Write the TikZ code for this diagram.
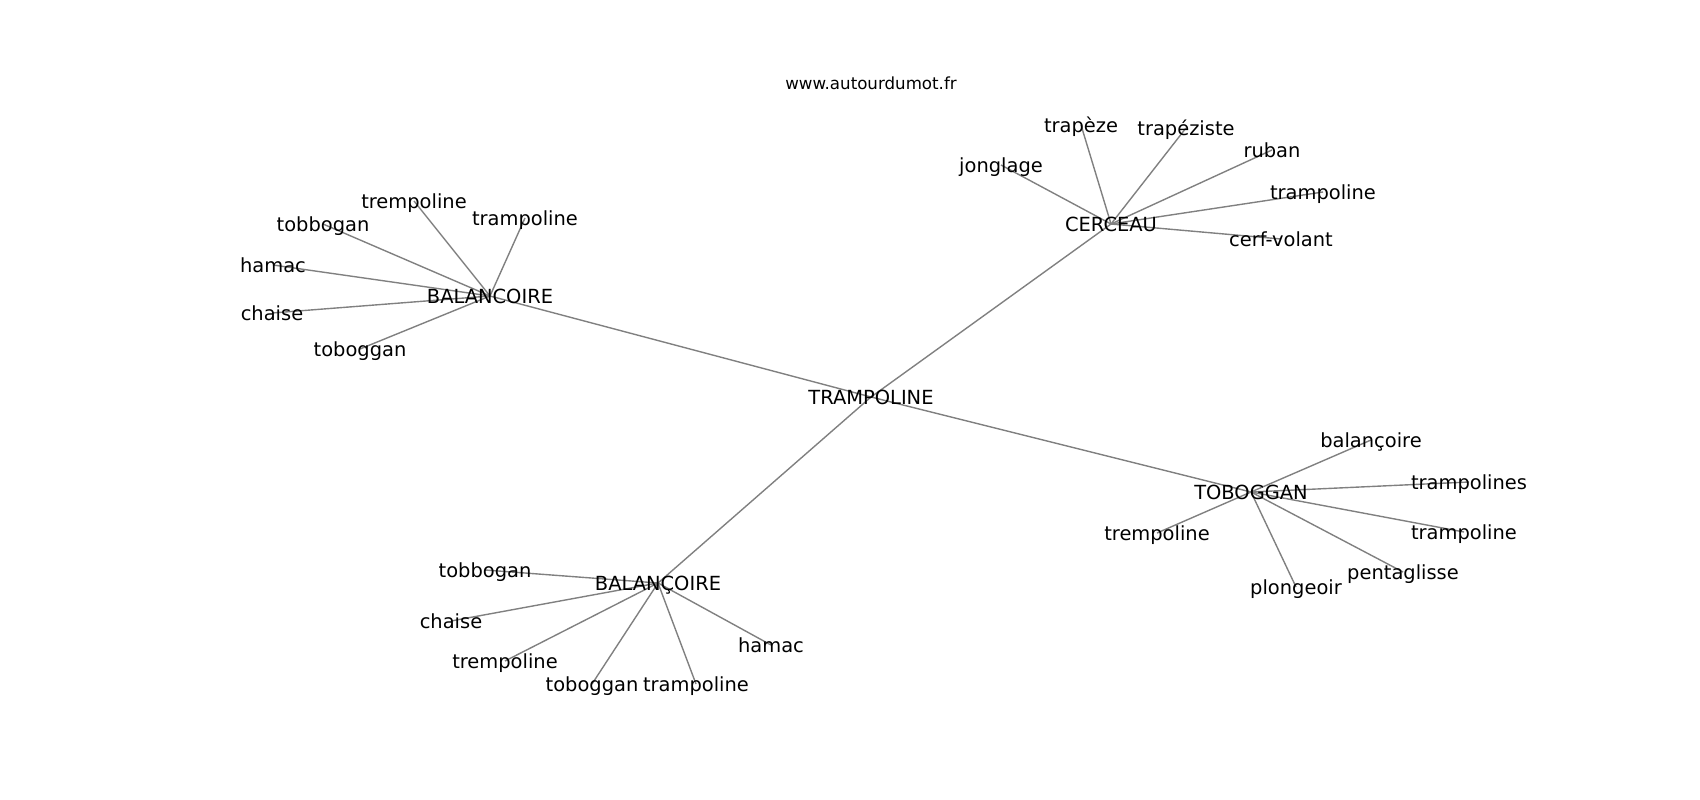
\documentclass[tikz,border=0pt]{standalone}
\usepackage{fontspec}
\setmainfont{DejaVu Sans}
\usetikzlibrary{backgrounds}
\begin{document}
\begin{tikzpicture}[x=0.72bp,y=-0.72bp,
  lbl/.style={inner sep=0pt,outer sep=0pt,text height=13.1bp,text depth=2.9bp,font=\fontsize{14bp}{16bp}\selectfont,text=black},
  ttl/.style={inner sep=0pt,outer sep=0pt,text height=11.6bp,text depth=2.5bp,font=\fontsize{12bp}{14bp}\selectfont,text=black},
  edge/.style={draw=gray,line width=1bp}]
\useasboundingbox (0,0) rectangle (1700,800);
\node[ttl] (title) at (871,83) {www.autourdumot.fr};
\node[lbl] (T) at (871,397) {TRAMPOLINE};
% BALANCOIRE
\node[lbl] (B1) at (490,296) {BALANCOIRE};
\node[lbl] (b1a) at (414,201) {trempoline};
\node[lbl] (b1b) at (525,218) {trampoline};
\node[lbl] (b1c) at (323,224) {tobbogan};
\node[lbl] (b1d) at (273,265) {hamac};
\node[lbl] (b1e) at (272,313) {chaise};
\node[lbl] (b1f) at (360,349) {toboggan};
% CERCEAU
\node[lbl] (C) at (1111,224) {CERCEAU};
\node[lbl] (ca) at (1081,125) {trapèze};
\node[lbl] (cb) at (1186,128) {trapéziste};
\node[lbl] (cc) at (1272,150) {ruban};
\node[lbl] (cd) at (1001,165) {jonglage};
\node[lbl] (ce) at (1323,192) {trampoline};
\node[lbl] (cf) at (1281,239) {cerf-volant};
% TOBOGGAN
\node[lbl] (TB) at (1251,492) {TOBOGGAN};
\node[lbl] (ta) at (1371,440) {balançoire};
\node[lbl] (tb) at (1469,482) {trampolines};
\node[lbl] (tc) at (1464,532) {trampoline};
\node[lbl] (td) at (1157,533) {trempoline};
\node[lbl] (te) at (1403,572) {pentaglisse};
\node[lbl] (tf) at (1296,587) {plongeoir};
% BALANÇOIRE
\node[lbl] (B2) at (658,583) {BALANÇOIRE};
\node[lbl] (b2a) at (485,570) {tobbogan};
\node[lbl] (b2b) at (451,621) {chaise};
\node[lbl] (b2c) at (505,661) {trempoline};
\node[lbl] (b2d) at (592,684) {toboggan};
\node[lbl] (b2e) at (696,684) {trampoline};
\node[lbl] (b2f) at (771,645) {hamac};
\begin{pgfonlayer}{background}
\fill[white] (0,0) rectangle (1700,800);
\foreach \a/\b in {T/B1,T/C,T/TB,T/B2,
  B1/b1a,B1/b1b,B1/b1c,B1/b1d,B1/b1e,B1/b1f,
  C/ca,C/cb,C/cc,C/cd,C/ce,C/cf,
  TB/ta,TB/tb,TB/tc,TB/td,TB/te,TB/tf,
  B2/b2a,B2/b2b,B2/b2c,B2/b2d,B2/b2e,B2/b2f}
  \draw[edge] (\a.center) -- (\b.center);
\end{pgfonlayer}
\end{tikzpicture}
\end{document}
